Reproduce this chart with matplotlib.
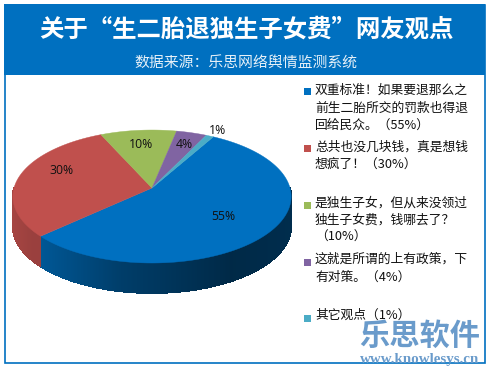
import numpy as np
import matplotlib
matplotlib.use("Agg")
import matplotlib.pyplot as plt
from matplotlib.collections import PolyCollection
from matplotlib.patches import Rectangle, Polygon

plt.rcParams['font.family'] = ['Noto Sans CJK SC', 'DejaVu Sans']

title = "关于“生二胎退独生子女费”网友观点"
subtitle = "数据来源：乐思网络舆情监测系统"
values = [55, 30, 10, 4, 1]
pct_labels = ["55%", "30%", "10%", "4%", "1%"]
colors = ["#0070C0", "#C0504D", "#9BBB59", "#8064A2", "#4BACC6"]
legend_lines = [
    ["双重标准！如果要退那么之", "前生二胎所交的罚款也得退", "回给民众。（55%）"],
    ["总共也没几块钱，真是想钱", "想疯了！（30%）"],
    ["是独生子女，但从来没领过", "独生子女费，钱哪去了？", "（10%）"],
    ["这就是所谓的上有政策，下", "有对策。（4%）"],
    ["其它观点（1%）"],
]
legend_line_y = [[90, 108, 125], [147, 164], [203, 220, 237], [259, 277], [315]]
legend_mark_y = [91, 148, 205, 262, 318]
label_xy = [(223, 217), (62, 171), (141, 145), (184, 144), (217, 130)]

W, H = 489, 368
fig = plt.figure(figsize=(W / 100, H / 100), dpi=100, facecolor="white")
ax = fig.add_axes([0, 0, 1, 1])
ax.set_xlim(0, W)
ax.set_ylim(H, 0)
ax.axis("off")

FRAME = "#0070C0"
ax.add_patch(Rectangle((4.5, 4.5), 480, 358.5, fc="white", ec=FRAME, lw=1.2, zorder=0))
ax.add_patch(Rectangle((4, 4), 481, 71, fc=FRAME, ec="none", zorder=1))
ax.text(246.5, 30, title, color="white", fontsize=17.6, fontweight="bold", ha="center", va="center", zorder=2)
ax.text(245.5, 64, subtitle, color="#E6F0F8", fontsize=10.7, ha="center", va="center", zorder=2)

# perspective pie disc
X0, Y0, B, A, K, DEPTH = 152, 188, 138, 65.4, 0.128, 30
START = 60.4


def project(t_deg):
    t = np.radians(t_deg)
    d = 1 + K * np.sin(t)
    return X0 + B * np.cos(t) / d, Y0 - A * np.sin(t) / d


def shade(x):
    return np.interp(x, [13, 39, 120, 230, 290], [0.86, 0.78, 0.55, 0.37, 0.40])


fr = np.array(values, dtype=float) / sum(values)
edges = START - 360 * np.concatenate([[0], np.cumsum(fr)])

quads, qcols = [], []
for i, c in enumerate(colors):
    rgb = np.array(matplotlib.colors.to_rgb(c))
    ts = np.arange(edges[i], edges[i + 1], -0.5)
    ts = np.append(ts, edges[i + 1])
    for a, b in zip(ts[:-1], ts[1:]):
        if np.sin(np.radians((a + b) / 2)) > 0:
            continue
        xa, ya = project(a)
        xb, yb = project(b)
        quads.append([(xa, ya), (xb, yb), (xb, yb + DEPTH), (xa, ya + DEPTH)])
        f = shade((xa + xb) / 2)
        if i == 1:
            f = max(f, 0.8)
        qcols.append(tuple(rgb * f))
ax.add_collection(PolyCollection(quads, facecolors=qcols, edgecolors=qcols, linewidths=0.6,
                                 antialiaseds=False, zorder=3))

for i, c in enumerate(colors):
    ts = np.linspace(edges[i], edges[i + 1], 200)
    xs, ys = project(ts)
    pts = np.column_stack([np.r_[X0, xs], np.r_[Y0, ys]])
    ax.add_patch(Polygon(pts, closed=True, fc=c, ec=c, lw=0.3, zorder=4))

for (x, y), s in zip(label_xy, pct_labels):
    ax.text(x, y, s, fontsize=8.8, color="#111111", family=["Open Sans", "DejaVu Sans"],
            ha="center", va="center", zorder=5)

for lines, ys, my, c in zip(legend_lines, legend_line_y, legend_mark_y, colors):
    ax.add_patch(Rectangle((304, my - 3.5), 7, 7, fc=c, ec="none", zorder=5))
    for s, y in zip(lines, ys):
        ax.text(315, y, s, fontsize=9.2, color="#111111", ha="left", va="center", zorder=5)

WM = "#6A9BCB"
ax.text(419.5, 336, "乐思软件", fontsize=21.8, fontweight="black", color=WM, ha="center", va="center", zorder=6)
ax.text(419.5, 360, "www.knowlesys.cn", fontsize=10.8, fontweight="bold", color=WM,
        family=["Liberation Serif"], ha="center", va="center", zorder=6)

fig.savefig("out.png", dpi=100, facecolor="white")
